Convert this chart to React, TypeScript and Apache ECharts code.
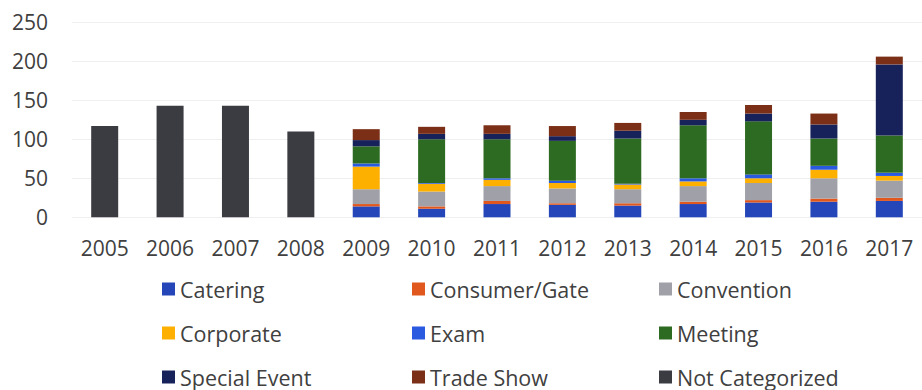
import React, { useEffect, useRef } from "react";
import * as echarts from "echarts";

const years = ["2005", "2006", "2007", "2008", "2009", "2010", "2011", "2012", "2013", "2014", "2015", "2016", "2017"];
const yTicks = [0, 50, 100, 150, 200, 250];

const catering = [null, null, null, null, 14, 11, 17, 16, 15, 17, 19, 20, 21];
const consumerGate = [null, null, null, null, 3, 3, 4, 2, 3, 3, 3, 4, 4];
const convention = [null, null, null, null, 19, 19, 19, 19, 18, 20, 22, 26, 22];
const corporate = [null, null, null, null, 29, 10, 8, 7, 6, 6, 6, 11, 6];
const exam = [null, null, null, null, 4, 1, 2, 3, 1, 4, 5, 5, 4];
const meeting = [null, null, null, null, 22, 56, 50, 51, 58, 68, 68, 35, 48];
const specialEvent = [null, null, null, null, 8, 7, 7, 6, 10, 7, 10, 18, 91];
const tradeShow = [null, null, null, null, 14, 9, 11, 13, 10, 10, 11, 14, 10];
const notCategorized = [117, 143, 143, 110, null, null, null, null, null, null, null, null, null];

const seriesDefs = [
  { name: "Catering", data: catering, color: "#2546b8" },
  { name: "Consumer/Gate", data: consumerGate, color: "#e0581e" },
  { name: "Convention", data: convention, color: "#a0a0a8" },
  { name: "Corporate", data: corporate, color: "#fdb000" },
  { name: "Exam", data: exam, color: "#2a5ae0" },
  { name: "Meeting", data: meeting, color: "#2e6b22" },
  { name: "Special Event", data: specialEvent, color: "#18225a" },
  { name: "Trade Show", data: tradeShow, color: "#7b2f17" },
  { name: "Not Categorized", data: notCategorized, color: "#3b3b42" },
];

const legendColumns = [
  ["Catering", "Corporate", "Special Event"],
  ["Consumer/Gate", "Exam", "Trade Show"],
  ["Convention", "Meeting", "Not Categorized"],
];
const legendLefts = [162, 412, 659];

const FONT = "'Open Sans', sans-serif";
const TEXT = "#404040";

export default function App() {
  const ref = useRef<HTMLDivElement>(null);
  useEffect(() => {
    if (!ref.current) return;
    const chart = echarts.init(ref.current, null, { renderer: "svg" });
    chart.setOption({
      animation: false,
      backgroundColor: "#ffffff",
      textStyle: { fontFamily: FONT },
      grid: { left: 72, width: 855, top: 22.3, bottom: 172.7, containLabel: false },
      legend: legendColumns.map((col, i) => ({
        orient: "vertical",
        left: legendLefts[i],
        top: 278,
        width: 250,
        height: 160,
        padding: 0,
        itemWidth: 13,
        itemHeight: 13,
        itemGap: 22,
        icon: "rect",
        data: col,
        textStyle: { fontFamily: FONT, fontSize: 21.5, color: TEXT, lineHeight: 22 },
        selectedMode: false,
      })),
      xAxis: {
        type: "category",
        data: years,
        axisLine: { show: false },
        axisTick: { show: false },
        axisLabel: { fontFamily: FONT, fontSize: 21, color: TEXT, margin: 20 },
      },
      yAxis: {
        type: "value",
        min: yTicks[0],
        max: yTicks[yTicks.length - 1],
        interval: 50,
        axisLine: { show: false },
        axisTick: { show: false },
        splitLine: { lineStyle: { color: "#efefef", width: 1 } },
        axisLabel: { fontFamily: FONT, fontSize: 21, color: TEXT, margin: 24 },
      },
      series: seriesDefs.map((s) => ({
        name: s.name,
        type: "bar",
        stack: "total",
        data: s.data,
        barWidth: 27,
        itemStyle: { color: s.color },
      })),
    });
    return () => chart.dispose();
  }, []);
  return (
    <div
      ref={ref}
      style={{ position: "fixed", left: 0, top: 0, width: 922, height: 390, background: "#fff" }}
    />
  );
}
